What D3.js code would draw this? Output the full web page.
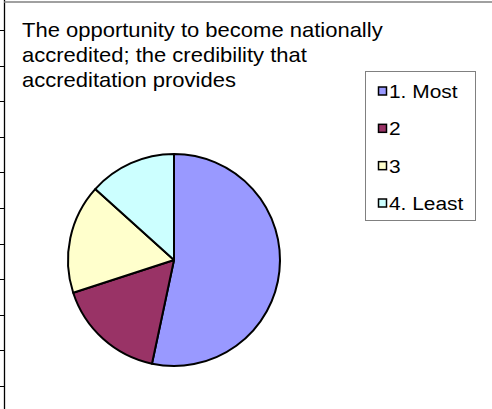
<!DOCTYPE html>
<html>
<head>
<meta charset="utf-8">
<script src="https://cdn.jsdelivr.net/npm/d3@7/dist/d3.min.js"></script>
<style>
  html, body { margin: 0; padding: 0; background: #fff; }
  svg { display: block; }
  text { font-family: "Liberation Sans", Arial, sans-serif; fill: #000; }
</style>
</head>
<body>
<svg id="chart" width="492" height="409"></svg>
<script>
// Ranking responses for this factor
const categories = ["1. Most", "2", "3", "4. Least"];
const counts = [16, 5, 5, 4];
const colors = ["#9999FF", "#993366", "#FFFFCC", "#CCFFFF"];
const titleLines = [
  "The opportunity to become nationally",
  "accredited; the credibility that",
  "accreditation provides"
];
// Worksheet row boundaries visible along the left edge
const rowLines = d3.range(11);

const W = 492, H = 409;
const svg = d3.select("#chart");

// Sheet row grid at the left margin
const rowY = d3.scaleLinear().domain([0, 10]).range([30, 386]);
svg.selectAll("line.row")
  .data(rowLines)
  .enter().append("line")
  .attr("class", "row")
  .attr("x1", 0).attr("x2", 5)
  .attr("y1", d => Math.round(rowY(d)) + 0.5)
  .attr("y2", d => Math.round(rowY(d)) + 0.5)
  .attr("stroke", "#000").attr("stroke-width", 1);

// Chart area frame
svg.append("line")
  .attr("x1", 4.5).attr("x2", 4.5).attr("y1", 0).attr("y2", H)
  .attr("stroke", "#000").attr("stroke-width", 1.3);
svg.append("line")
  .attr("x1", 4).attr("x2", W).attr("y1", 2).attr("y2", 2)
  .attr("stroke", "#808080").attr("stroke-width", 1.6);

// Title (the chart's text is drawn slightly wide)
const title = svg.append("text")
  .attr("transform", "translate(22,37) scale(1.1,1)")
  .style("font-size", "20px");
title.selectAll("tspan")
  .data(titleLines)
  .enter().append("tspan")
  .attr("x", 0)
  .attr("dy", (d, i) => i === 0 ? 0 : 25)
  .text(d => d);

// Pie
const cx = 174, cy = 260, r = 106;
const pie = d3.pie().sort(null).value(d => d.value);
const arc = d3.arc().innerRadius(0).outerRadius(r);
const data = categories.map((c, i) => ({ name: c, value: counts[i], color: colors[i] }));

const g = svg.append("g").attr("transform", `translate(${cx},${cy})`);
g.selectAll("path")
  .data(pie(data))
  .enter().append("path")
  .attr("d", arc)
  .attr("fill", d => d.data.color)
  .attr("stroke", "#000")
  .attr("stroke-width", 2)
  .attr("stroke-linejoin", "round");

// Legend
const legend = svg.append("g");
legend.append("rect")
  .attr("x", 365.5).attr("y", 71.5).attr("width", 110).attr("height", 149)
  .attr("fill", "#fff").attr("stroke", "#808080").attr("stroke-width", 1);

const ly = d3.scalePoint().domain(categories).range([91, 203]);
const items = legend.selectAll("g.item")
  .data(data)
  .enter().append("g")
  .attr("class", "item")
  .attr("transform", d => `translate(0,${ly(d.name)})`);
items.append("rect")
  .attr("x", 378.5).attr("y", -4).attr("width", 8).attr("height", 8)
  .attr("fill", d => d.color)
  .attr("stroke", "#000").attr("stroke-width", 1.5);
items.append("text")
  .attr("transform", "translate(389,7) scale(1.1,1)")
  .style("font-size", "19px")
  .text(d => d.name);
</script>
</body>
</html>
